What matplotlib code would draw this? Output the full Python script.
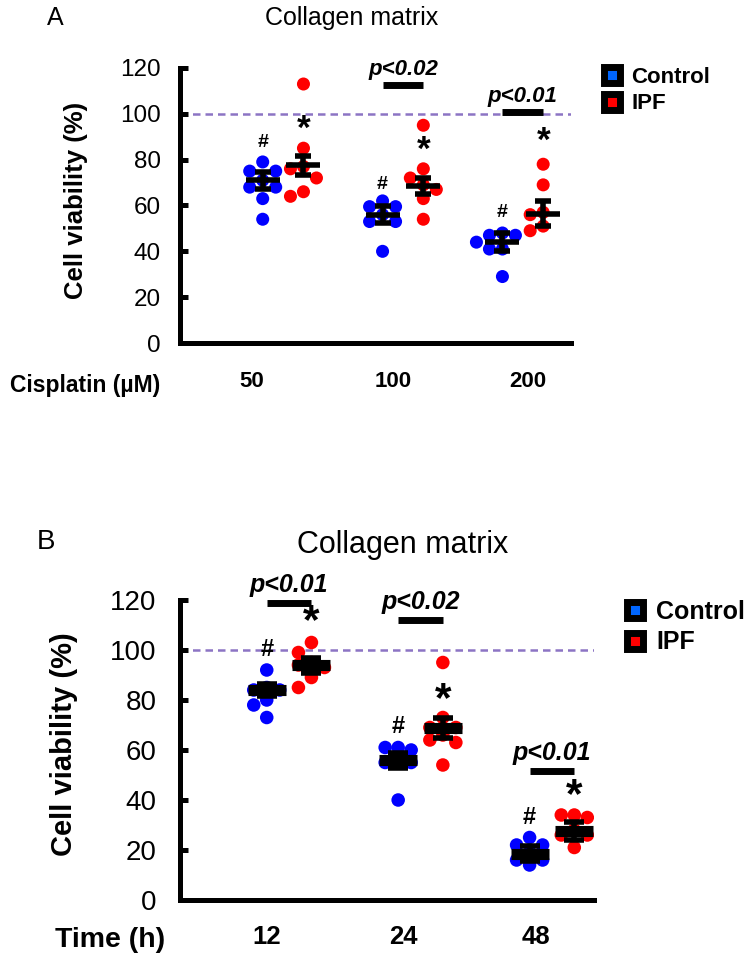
import numpy as np
import matplotlib.pyplot as plt
from matplotlib.lines import Line2D

plt.rcParams['font.family'] = ['Liberation Sans', 'DejaVu Sans']

# panel A: cisplatin dose
doses = ['50', '100', '200']
a_control = [[79, 75, 75, 71, 68, 68, 63, 54],
             [62, 59.5, 59.5, 56, 53, 53, 40],
             [48, 47, 47, 44, 41, 41, 29]]
a_ipf = [[113, 85, 77, 76, 72, 66, 64],
         [95, 76, 72, 69, 67, 63, 54],
         [78, 69, 57, 56, 51, 49]]
a_control_mean = [71, 56, 44]
a_control_sem = [3.8, 3.6, 4.0]
a_ipf_mean = [77.5, 68.5, 56.5]
a_ipf_sem = [4.0, 3.6, 5.5]
a_hash = [87.5, 69, 57]
a_star = [93, 84, 88]
a_pvals = [(1, 112.4, 'p<0.02'), (2, 100.6, 'p<0.01')]

# panel B: time course
times = ['12', '24', '48']
b_control = [[92, 85, 84, 84, 80, 78, 73],
             [61, 61, 60, 56, 55, 55, 40],
             [25, 22, 22, 19, 16, 16, 14]]
b_ipf = [[103, 99, 95, 94, 93, 89, 85],
         [95, 73, 69, 69, 66, 64, 63, 54],
         [34, 34, 33, 28, 26, 26, 21]]
b_control_mean = [84, 56, 18.5]
b_control_sem = [2.4, 3.0, 3.0]
b_ipf_mean = [94, 69, 27.5]
b_ipf_sem = [3.0, 4.0, 3.6]
b_hash = [100, 69.5, 33]
b_star = [111, 80, 41.5]
b_pvals = [(0, 119, 'p<0.01'), (1, 112, 'p<0.02'), (2, 51.7, 'p<0.01')]

BLUE = '#0000ff'
RED = '#ff0000'


def swarm(ax, xc, vals, color, size):
    # simple beeswarm in pixel space
    ppx = ax.transData.transform((1, 0))[0] - ax.transData.transform((0, 0))[0]
    step = 13.0
    placed = []
    xs, ys = [], []
    for v in sorted(vals, reverse=True):
        py = ax.transData.transform((0, v))[1]
        for k in [0, -1, 1, -2, 2]:
            if all(np.hypot(k * step - qx, py - qy) > 12 for qx, qy in placed):
                break
        placed.append((k * step, py))
        xs.append(xc + k * step / ppx)
        ys.append(v)
    ax.scatter(xs, ys, s=size, color=color, edgecolors='none', zorder=2)


def mean_bar(ax, xc, m, sem, lw, half, cap):
    ppx = ax.transData.transform((1, 0))[0] - ax.transData.transform((0, 0))[0]
    hw = half / ppx
    ax.plot([xc - hw, xc + hw], [m, m], color='black', lw=lw, zorder=3,
            solid_capstyle='butt')
    ax.errorbar(xc, m, yerr=sem, fmt='none', ecolor='black', elinewidth=4,
                capsize=cap, capthick=4, zorder=3)


def panel(ax, control, ipf, cm, cs, im, isem, hashes, stars, pvals, xlim,
          ticks, labels, st):
    ax.set_xlim(*xlim)
    ax.set_ylim(0, 120)
    off = 0.17
    ax.axhline(100, color='#8c74c4', lw=1.8, ls=(0, (3, 2)), zorder=1)
    for i in range(3):
        swarm(ax, i - off, control[i], BLUE, st['dot'])
        swarm(ax, i + off, ipf[i], RED, st['dot'])
        mean_bar(ax, i - off, cm[i], cs[i], st['mean_lw'], st['half'], st['cap'])
        mean_bar(ax, i + off, im[i], isem[i], st['mean_lw'], st['half'], st['cap'])
        ax.text(i - off, hashes[i], '#', ha='center', va='center',
                fontsize=st['hash'], fontweight='bold')
        ax.text(i + off, stars[i], '*', ha='center', va='center',
                fontsize=st['hash'] * 1.8, fontweight='bold')
    for g, y, txt in pvals:
        ax.plot([g - off, g + off], [y, y], color='black', lw=5,
                solid_capstyle='butt', clip_on=False)
        ax.annotate(txt, (g, y), xytext=(0, 4), textcoords='offset points',
                    ha='center', va='bottom', fontsize=st['p'],
                    fontweight='bold', style='italic', annotation_clip=False)
    for s in ['top', 'right']:
        ax.spines[s].set_visible(False)
    for s in ['left', 'bottom']:
        ax.spines[s].set_linewidth(3.6)
    ax.set_yticks(range(0, 121, 20))
    ax.tick_params(axis='y', direction='in', length=6, width=3.6,
                   pad=st['ypad'], labelsize=st['tick'])
    ax.set_xticks(ticks)
    ax.set_xticklabels(labels, fontsize=st['xtick'], fontweight='bold')
    ax.tick_params(axis='x', length=0, pad=st['xpad'])


fig = plt.figure(figsize=(7.5, 9.6), dpi=100)

style_a = dict(dot=88, mean_lw=4, half=17, cap=6, hash=14, p=16, tick=17.5,
               xtick=16, xpad=20, ypad=14)
style_b = dict(dot=95, mean_lw=8, half=19, cap=7, hash=17, p=18, tick=20,
               xtick=18.5, xpad=18, ypad=17)

axA = fig.add_axes([0.24, 0.6427, 0.521, 0.2865])
panel(axA, a_control, a_ipf, a_control_mean, a_control_sem, a_ipf_mean,
      a_ipf_sem, a_hash, a_star, a_pvals, (-0.86, 2.4),
      [-0.26, 0.92, 2.04], doses, style_a)
axA.set_ylabel('Cell viability (%)', fontsize=18.5, fontweight='bold')
axA.yaxis.set_label_coords(-0.236, 0.52)

axB = fig.add_axes([0.24, 0.0625, 0.552, 0.3125])
panel(axB, b_control, b_ipf, b_control_mean, b_control_sem, b_ipf_mean,
      b_ipf_sem, b_hash, b_star, b_pvals, (-0.83, 2.32),
      [-0.17, 0.87, 1.88], times, style_b)
axB.set_ylabel('Cell viability (%)', fontsize=21, fontweight='bold')
axB.yaxis.set_label_coords(-0.246, 0.52)

fig.text(55 / 750, 1 - 18 / 960, 'A', fontsize=18, ha='center', va='center')
fig.text(46 / 750, 1 - 542 / 960, 'B', fontsize=20, ha='center', va='center')
fig.text(352 / 750, 1 - 18 / 960, 'Collagen matrix', fontsize=18,
         ha='center', va='center')
fig.text(403 / 750, 1 - 545 / 960, 'Collagen matrix', fontsize=22,
         ha='center', va='center')
fig.text(10 / 750, 1 - 385 / 960, 'Cisplatin (\u00b5M)', fontsize=16.5,
         fontweight='bold', ha='left', va='center')
fig.text(55 / 750, 1 - 940 / 960, 'Time (h)', fontsize=20.5,
         fontweight='bold', ha='left', va='center')

handles = [Line2D([], [], ls='none', marker='s', ms=12, mfc='#0066ff',
                  mec='black', mew=5),
           Line2D([], [], ls='none', marker='s', ms=12, mfc=RED,
                  mec='black', mew=5)]
fig.legend(handles, ['Control', 'IPF'], loc='upper left',
           bbox_to_anchor=(590 / 750, 1 - 58 / 960), frameon=False,
           prop={'weight': 'bold', 'size': 16}, handletextpad=0.25,
           labelspacing=0.25, handlelength=1.2, borderaxespad=0)
fig.legend(handles, ['Control', 'IPF'], loc='upper left',
           bbox_to_anchor=(610 / 750, 1 - 590 / 960), frameon=False,
           prop={'weight': 'bold', 'size': 18}, handletextpad=0.25,
           labelspacing=0.25, handlelength=1.2, borderaxespad=0)

fig.savefig('out.png', dpi=100)
